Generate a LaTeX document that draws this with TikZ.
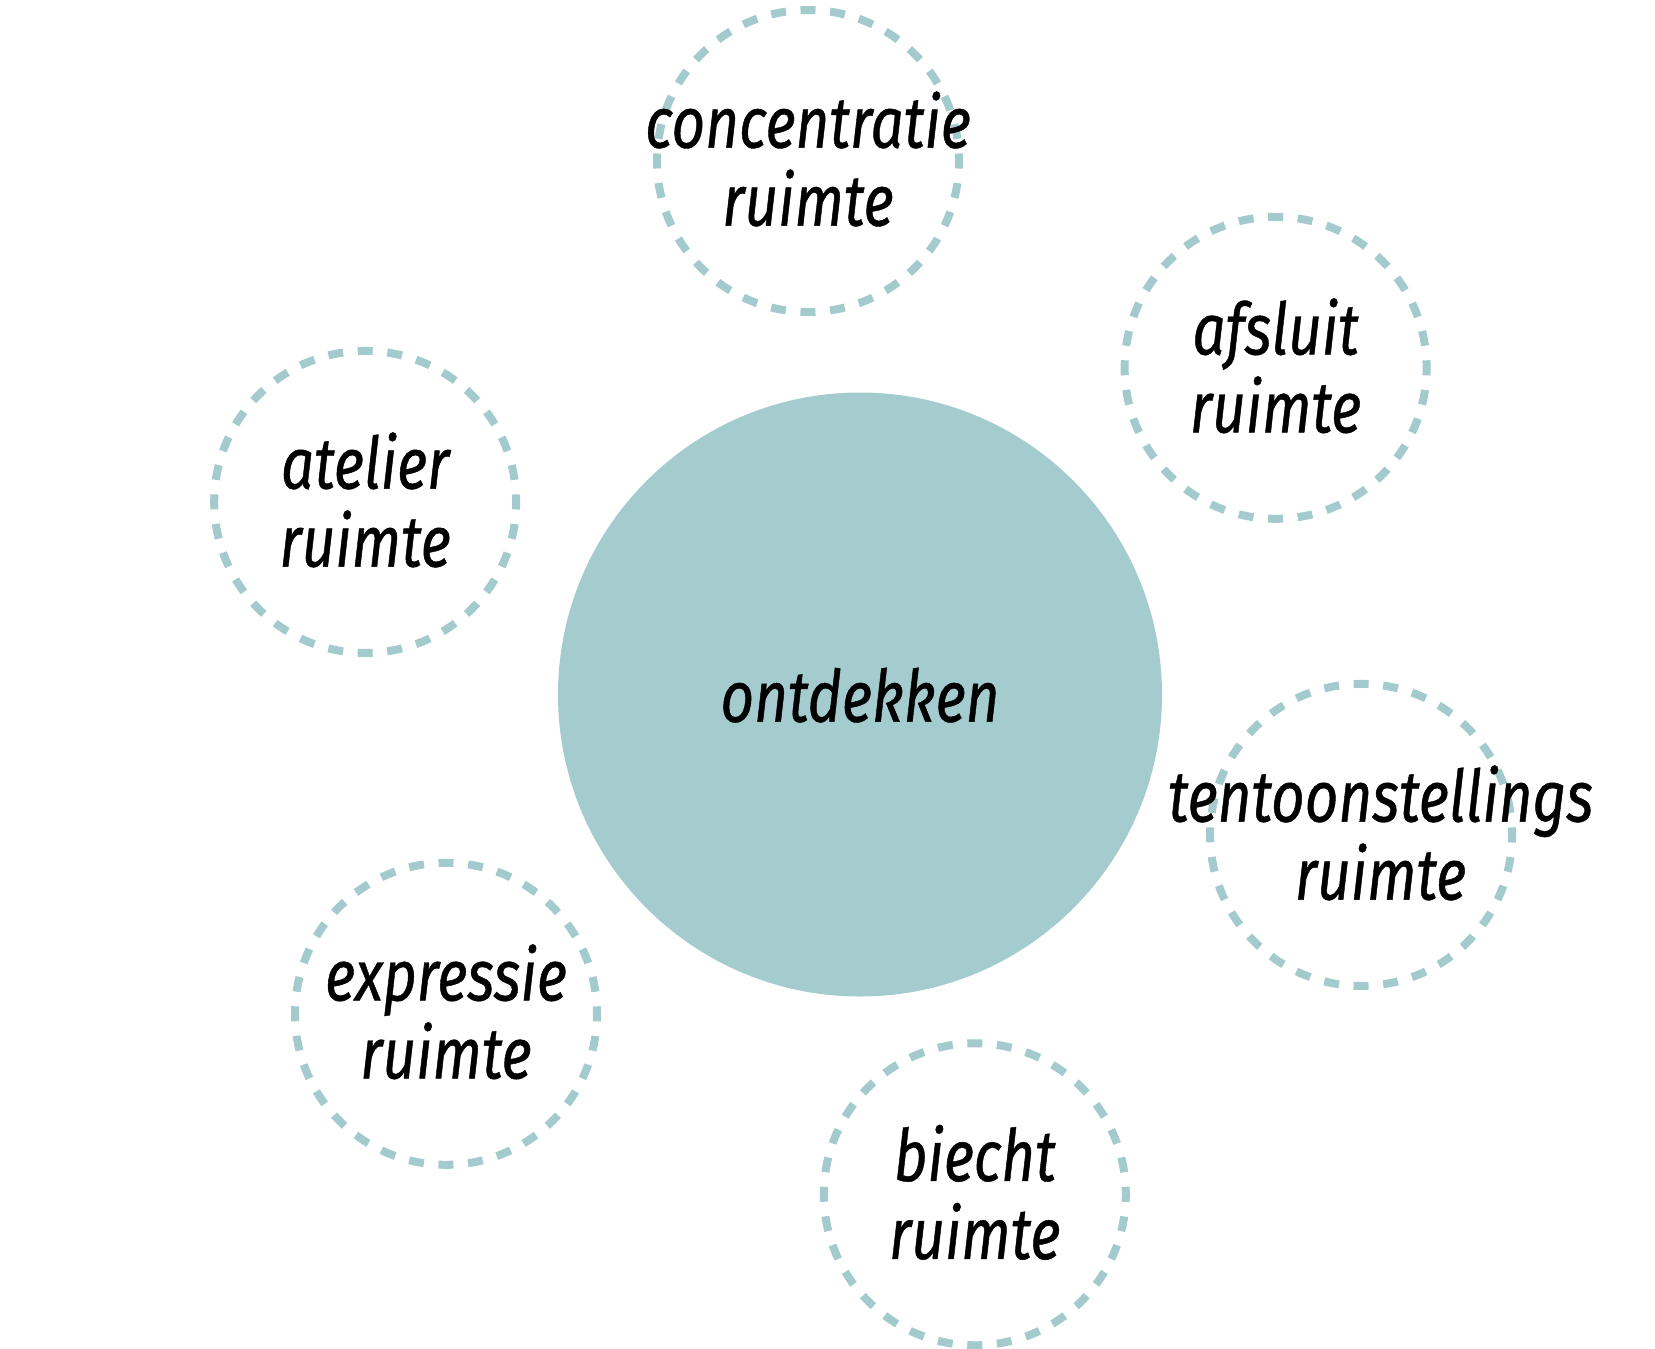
\documentclass[tikz,border=0pt]{standalone}
\usepackage{fontspec}
\newfontfamily\lblfont[FakeStretch=0.81,FakeBold=0.6]{Fira Sans}
\definecolor{hub}{HTML}{A4CBCE}
\definecolor{ring}{HTML}{A3CACD}
\begin{document}
\begin{tikzpicture}[x=1pt,y=-1pt,
  room/.style={circle, draw=ring, line width=8pt, dash pattern=on 15pt off 14.65pt, dash phase=7.5pt, minimum size=302pt, inner sep=0pt},
  hubstyle/.style={circle, fill=hub, minimum size=604pt, inner sep=0pt},
  lbl/.style={font=\lblfont\itshape\fontsize{72}{78}\selectfont, align=center, inner sep=0pt, text=black}]
\useasboundingbox (0,0) rectangle (1655,1349);
\node[hubstyle] (hub) at (860,694.5) {};
\node[room] (c1) at (808,161) {};
\node[room] (c2) at (1275.6,367.8) {};
\node[room] (c3) at (365.2,501.9) {};
\node[room] (c4) at (1361.1,834.9) {};
\node[room] (c5) at (446,1013.8) {};
\node[room] (c6) at (974.8,1194.3) {};
\node[lbl, anchor=base] (l0) at (860,721.7) {ontdekken};
\node[lbl] (l1) at (808,159) {concentratie\\ruimte};
\node[lbl] (l2) at (1275.6,365.8) {afsluit\\ruimte};
\node[lbl] (l3) at (365.2,499.9) {atelier\\ruimte};
\node[lbl] (l4) at (1380.6,832.9) {tentoonstellings\\ruimte};
\node[lbl] (l5) at (446,1011.8) {expressie\\ruimte};
\node[lbl] (l6) at (974.8,1192.3) {biecht\\ruimte};
\end{tikzpicture}
\end{document}
